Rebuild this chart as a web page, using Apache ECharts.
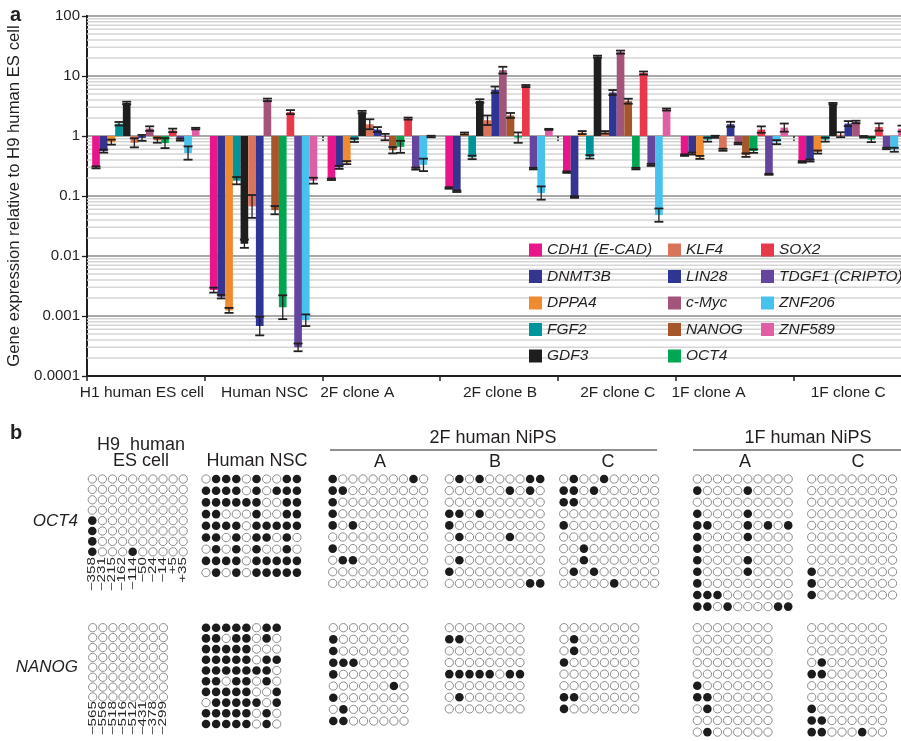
<!DOCTYPE html>
<html><head><meta charset="utf-8">
<script src="https://cdn.jsdelivr.net/npm/echarts@6/dist/echarts.min.js"></script>
<style>html,body{margin:0;padding:0;background:#fff}#c{width:901px;height:741px}</style>
</head><body><div id="c"></div>
<script>
// ---------------- DATA (panel a) ----------------
const groups = ['H1 human ES cell', 'Human NSC', '2F clone A', '2F clone B', '2F clone C', '1F clone A', '1F clone C'];
const genes = ['CDH1 (E-CAD)', 'DNMT3B', 'DPPA4', 'FGF2', 'GDF3', 'KLF4', 'LIN28', 'c-Myc', 'NANOG', 'OCT4', 'SOX2', 'TDGF1 (CRIPTO)', 'ZNF206', 'ZNF589'];
const yTickLabels = ['0.0001', '0.001', '0.01', '0.1', '1', '10', '100'];

// relative expression values, one per group
const CDH1   = [0.30, 0.0027, 0.19, 0.136, 0.25, 0.48, 0.37];
const DNMT3B = [0.56, 0.0021, 0.30, 0.12, 0.096, 0.51, 0.39];
const DPPA4  = [0.79, 0.00124, 0.36, 1.1, 1.14, 0.44, 0.54];
const FGF2   = [1.6, 0.18, 0.85, 0.44, 0.45, 0.87, 0.87];
const GDF3   = [3.55, 0.016, 2.5, 3.83, 21, 0.97, 3.46];
const KLF4   = [0.77, 0.067, 1.57, 1.83, 1.15, 0.59, 1.05];
const LIN28  = [0.93, 0.00068, 1.28, 5.9, 5.3, 1.57, 1.61];
const CMYC   = [1.33, 4.0, 0.96, 12.5, 25, 0.75, 1.71];
const NANOG  = [0.85, 0.058, 0.58, 2.2, 3.8, 0.48, 0.97];
const OCT4   = [0.76, 0.0014, 0.66, 0.94, 0.286, 0.56, 0.87];
const SOX2   = [1.24, 2.5, 1.95, 6.8, 11.2, 1.28, 1.41];
const TDGF1  = [0.87, 0.0003, 0.286, 0.286, 0.33, 0.23, 0.62];
const ZNF206 = [0.52, 0.00085, 0.33, 0.112, 0.048, 0.79, 0.59];
const ZNF589 = [1.33, 0.18, 0.98, 1.29, 2.76, 1.38, 1.33];

// error bars as multiplicative factors (value / f .. value * f)
const CDH1_err   = [1.04, 1.10, 1.03, 1.03, 1.03, 1.03, 1.03];
const DNMT3B_err = [1.06, 1.07, 1.06, 1.03, 1.03, 1.04, 1.04];
const DPPA4_err  = [1.10, 1.10, 1.06, 1.04, 1.06, 1.06, 1.06];
const FGF2_err   = [1.07, 1.15, 1.07, 1.07, 1.07, 1.08, 1.08];
const GDF3_err   = [1.05, 1.17, 1.05, 1.07, 1.04, 1.04, 1.03];
const KLF4_err   = [1.19, 1.55, 1.21, 1.20, 1.05, 1.04, 1.10];
const LIN28_err  = [1.12, 1.43, 1.10, 1.13, 1.10, 1.10, 1.10];
const CMYC_err   = [1.09, 1.05, 1.13, 1.14, 1.06, 1.03, 1.05];
const NANOG_err  = [1.10, 1.17, 1.13, 1.10, 1.10, 1.07, 1.03];
const OCT4_err   = [1.21, 1.58, 1.26, 1.22, 1.03, 1.07, 1.10];
const SOX2_err   = [1.07, 1.08, 1.04, 1.04, 1.06, 1.13, 1.15];
const TDGF1_err  = [1.04, 1.16, 1.04, 1.03, 1.04, 1.02, 1.03];
const ZNF206_err = [1.29, 1.25, 1.27, 1.29, 1.29, 1.08, 1.08];
const ZNF589_err = [1.03, 1.12, 1.03, 1.02, 1.04, 1.17, 1.12];

const geneValues = [CDH1, DNMT3B, DPPA4, FGF2, GDF3, KLF4, LIN28, CMYC, NANOG, OCT4, SOX2, TDGF1, ZNF206, ZNF589];
const geneErrors = [CDH1_err, DNMT3B_err, DPPA4_err, FGF2_err, GDF3_err, KLF4_err, LIN28_err, CMYC_err, NANOG_err, OCT4_err, SOX2_err, TDGF1_err, ZNF206_err, ZNF589_err];

// ---------------- DATA (panel b) : 1 = methylated CpG ----------------
const oct4Positions = ['\u2212358', '\u2212231', '\u2212215', '\u2212162', '\u2212114', '\u221250', '\u221224', '\u221214', '+5', '+35'];
const nanogPositions = ['\u2212565', '\u2212556', '\u2212518', '\u2212516', '\u2212512', '\u2212431', '\u2212378', '\u2212299'];

const oct4_H9 = ['0000000000','0000000000','0000000000','0000000000','1000000000','1000000000','1000000000','1000100000'];
const oct4_NSC = ['0111010011','1111010111','1111110011','1100010011','1111011111','1101011010','0101010010','1111011111','0101011111'];
const oct4_2FA = ['1000000010','1100000000','1000000000','1000000000','1010000000','0000000000','1000000000','0110000000','0000000000','0000000000'];
const oct4_2FB = ['0101000011','0000001010','0000000000','1101000000','1000000000','0100001000','0000000000','0100000000','1000000000','0000000011'];
const oct4_2FC = ['0100100000','1101000000','1100000000','0000000000','1000000000','0000000000','0010000000','0010000000','0101000000','0000010000'];
const oct4_1FA = ['0000000000','1000010000','0000000000','1000010000','1100010101','1000010000','1000000000','1000010000','1000010000','1000000000','1110000000','1101000011'];
const oct4_1FC = ['0000000000','0000000000','0000000000','0000000000','0000000000','0000000000','0000000000','0000000000','1000000000','1000000000','1000000000'];

const nanog_H9 = ['00000000','00000000','00000000','00000000','00000000','00000000','00000000','00000000'];
const nanog_NSC = ['11111011','11011010','11111000','11111011','11111110','11011010','11111001','01111101','11111010','11111010'];
const nanog_2FA = ['00000000','10000000','10000000','11100000','10000000','00000010','10000000','01000000','11000000'];
const nanog_2FB = ['00000000','11000000','00000000','00000000','11111011','00000000','01000000','00000000'];
const nanog_2FC = ['00000000','01000000','01000000','10000000','00000000','00000000','11000000','10000000'];
const nanog_1FA = ['00000000','00000000','00000000','00000000','00000000','10000000','11000000','01000000','00000000','01000000'];
const nanog_1FC = ['00000000','00000000','00000000','01000000','11000000','00000000','00000000','10000000','11000000','11000100'];

// ---------------- STYLE / LAYOUT ----------------
const FONT = '"Liberation Sans", Arial, Helvetica, sans-serif';
const INK = '#231f20';
const colors = ['#e8168a', '#35348f', '#f08a2e', '#00959a', '#1e1e1e', '#d9735a', '#2f3594', '#a3547a', '#a5562a', '#00a651', '#e8394a', '#65469c', '#45c3ec', '#e05fa4'];
const BAR_STEP = 7.67;
const labelShift = [-4, 1, -24, 1, 1, -26, -4];

const blocks = [
  { m: oct4_H9,  x0: 92.3,  y0: 479,   dy: 10.4 },
  { m: oct4_NSC, x0: 206,   y0: 479,   dy: 11.7 },
  { m: oct4_2FA, x0: 332.7, y0: 479,   dy: 11.6 },
  { m: oct4_2FB, x0: 449.3, y0: 479,   dy: 11.6 },
  { m: oct4_2FC, x0: 563.7, y0: 479,   dy: 11.6 },
  { m: oct4_1FA, x0: 697.3, y0: 479,   dy: 11.6 },
  { m: oct4_1FC, x0: 811.7, y0: 479,   dy: 11.6 },
  { m: nanog_H9,  x0: 92.7,  y0: 627.7, dy: 9.9 },
  { m: nanog_NSC, x0: 206,   y0: 627.7, dy: 10.7 },
  { m: nanog_2FA, x0: 333.3, y0: 627.7, dy: 11.67 },
  { m: nanog_2FB, x0: 449.3, y0: 627.7, dy: 11.6 },
  { m: nanog_2FC, x0: 564,   y0: 627.7, dy: 11.6 },
  { m: nanog_1FA, x0: 697.3, y0: 627.7, dy: 11.6 },
  { m: nanog_1FC, x0: 811.7, y0: 627.7, dy: 11.6 }
];
const DX = 10.1;
const filledPts = [], emptyPts = [];
blocks.forEach(b => {
  b.m.forEach((row, r) => {
    for (let c = 0; c < row.length; c++) {
      const p = [b.x0 + c * DX, b.y0 + r * b.dy];
      (row[c] === '1' ? filledPts : emptyPts).push(p);
    }
  });
});

// minor log grid lines (axis decoration)
const minorLines = [];
for (let k = -4; k < 2; k++) for (let m = 2; m <= 9; m++) minorLines.push([0, m * Math.pow(10, k)]);

function barRenderer(gi) {
  return function (params, api) {
    const j = api.value(0), v = api.value(1), f = api.value(2);
    const base = api.coord([j, 1]);
    const yv = api.coord([j, v])[1];
    const ylo = api.coord([j, v / f])[1], yhi = api.coord([j, v * f])[1];
    const x = base[0] + (gi - 7) * BAR_STEP;
    const cx = x + BAR_STEP / 2;
    const es = { stroke: INK, lineWidth: 1.3 };
    const cs = { stroke: INK, lineWidth: 1.8 };
    return {
      type: 'group',
      children: [
        { type: 'rect', shape: { x: x, y: Math.min(base[1], yv), width: BAR_STEP, height: Math.abs(base[1] - yv) }, style: { fill: colors[gi] } },
        { type: 'line', shape: { x1: cx, y1: ylo, x2: cx, y2: yhi }, style: es },
        { type: 'line', shape: { x1: cx - 4.5, y1: ylo, x2: cx + 4.5, y2: ylo }, style: cs },
        { type: 'line', shape: { x1: cx - 4.5, y1: yhi, x2: cx + 4.5, y2: yhi }, style: cs }
      ]
    };
  };
}

const series = [];
series.push({
  type: 'custom', name: '_grid', xAxisIndex: 0, yAxisIndex: 0, silent: true, z: 1,
  data: minorLines,
  renderItem: function (params, api) {
    const y = api.coord([0, api.value(1)])[1];
    const cs = params.coordSys;
    return { type: 'line', shape: { x1: cs.x, y1: y, x2: cs.x + cs.width, y2: y }, style: { stroke: '#d5d5d5', lineWidth: 1.5 } };
  }
});
genes.forEach((g, gi) => {
  series.push({
    type: 'custom', name: g, xAxisIndex: 0, yAxisIndex: 0, z: 3,
    itemStyle: { color: colors[gi] },
    encode: { x: 0, y: 1 },
    data: groups.map((_, j) => [j, geneValues[gi][j], geneErrors[gi][j]]),
    renderItem: barRenderer(gi)
  });
});
series.push({
  type: 'scatter', name: '_unmeth', xAxisIndex: 2, yAxisIndex: 1, silent: true,
  symbol: 'circle', symbolSize: 8.3, data: emptyPts,
  itemStyle: { color: '#ffffff', borderColor: '#8c8c8c', borderWidth: 1, opacity: 1 }
});
series.push({
  type: 'scatter', name: '_meth', xAxisIndex: 2, yAxisIndex: 1, silent: true,
  symbol: 'circle', symbolSize: 8.6, data: filledPts,
  itemStyle: { color: '#1c1c1c', opacity: 1 }
});

function legendCol(names, left) {
  return {
    data: names, left: left, top: 242, orient: 'vertical', icon: 'rect', padding: 0,
    itemWidth: 13, itemHeight: 13, itemGap: 10.5, selectedMode: false,
    textStyle: { fontFamily: FONT, fontStyle: 'italic', fontSize: 15.5, color: INK, lineHeight: 14 }
  };
}

// ---------------- TEXT / DECORATION ----------------
const graphics = [];
function txt(text, x, y, o) {
  o = o || {};
  graphics.push({
    type: 'text', x: x, y: y, rotation: o.rot || 0, scaleX: o.sx || 1, silent: true,
    style: {
      text: text, fontFamily: FONT, fontSize: o.size || 18, fontWeight: o.bold ? 'bold' : 'normal',
      fontStyle: o.italic ? 'italic' : 'normal', fill: INK, align: o.align || 'center', verticalAlign: o.va || 'middle'
    }
  });
}
txt('a', 10, 15, { bold: true, size: 20, align: 'left' });
txt('b', 10, 433, { bold: true, size: 20, align: 'left' });
txt('H9  human', 141, 445);
txt('ES cell', 141, 461.5);
txt('Human NSC', 257, 461.5);
txt('2F human NiPS', 493, 438);
txt('A', 380, 462); txt('B', 495, 462); txt('C', 608, 462);
txt('1F human NiPS', 808, 438);
txt('A', 745, 462); txt('C', 858, 462);
txt('OCT4', 78, 521, { italic: true, size: 17, align: 'right' });
txt('NANOG', 78, 667, { italic: true, size: 17, align: 'right' });
oct4Positions.forEach((p, i) => txt(p, 92.3 + i * DX, 557, { rot: Math.PI / 2, sx: 1.45, size: 10.5, align: 'right' }));
nanogPositions.forEach((p, i) => txt(p, 92.7 + i * DX, 701, { rot: Math.PI / 2, sx: 1.45, size: 10.5, align: 'right' }));
graphics.push({ type: 'line', silent: true, shape: { x1: 330, y1: 450, x2: 657, y2: 450 }, style: { stroke: INK, lineWidth: 1 } });
graphics.push({ type: 'line', silent: true, shape: { x1: 693, y1: 450, x2: 905, y2: 450 }, style: { stroke: INK, lineWidth: 1 } });

const option = {
  animation: false,
  backgroundColor: '#ffffff',
  grid: [
    { left: 87, top: 16, width: 824, height: 360, show: true, borderColor: INK, borderWidth: 2, containLabel: false, outerBoundsMode: 'none' },
    { left: 0, top: 0, width: 901, height: 741, show: false, containLabel: false, outerBoundsMode: 'none' }
  ],
  xAxis: [
    {
      type: 'category', gridIndex: 0, position: 'bottom',
      data: groups.map((g, j) => ({ value: g, textStyle: { padding: labelShift[j] < 0 ? [0, -2 * labelShift[j], 0, 0] : [0, 0, 0, 2 * labelShift[j]] } })),
      axisLine: { lineStyle: { color: INK, width: 2 } },
      axisTick: { show: true, length: 5, lineStyle: { color: INK, width: 1.5 } },
      axisLabel: { interval: 0, fontFamily: FONT, fontSize: 15.5, color: INK, margin: 9 },
      splitLine: { show: false }
    },
    {
      type: 'category', gridIndex: 0, position: 'top', offset: -120, data: groups,
      axisLine: { show: false }, axisLabel: { show: false },
      axisTick: { show: true, inside: true, length: 6, lineStyle: { color: INK, width: 1.5 } },
      splitLine: { show: false }
    },
    { type: 'value', gridIndex: 1, min: 0, max: 901, show: false }
  ],
  yAxis: [
    {
      type: 'log', logBase: 10, gridIndex: 0, min: 0.0001, max: 100,
      axisLine: { show: true, lineStyle: { color: INK, width: 2 } },
      axisTick: { show: true, length: 5, lineStyle: { color: INK, width: 1.3 } },
      axisLabel: { fontFamily: FONT, fontSize: 15, color: INK, margin: 7,
        formatter: v => yTickLabels[Math.round(Math.log10(v)) + 4] },
      splitLine: { show: true, lineStyle: { color: '#a8a8a8', width: 2 } },
      name: 'Gene expression relative to H9 human ES cell', nameLocation: 'middle', nameGap: 58,
      nameTextStyle: { fontFamily: FONT, fontSize: 16.7, color: INK }
    },
    { type: 'value', gridIndex: 1, min: 0, max: 741, inverse: true, show: false }
  ],
  legend: [
    legendCol(genes.slice(0, 5), 529),
    legendCol(genes.slice(5, 10), 668),
    legendCol(genes.slice(10, 14), 761)
  ],
  graphic: graphics,
  series: series
};

const chart = echarts.init(document.getElementById('c'), null, { renderer: 'canvas' });
chart.setOption(option);
</script>
</body></html>
